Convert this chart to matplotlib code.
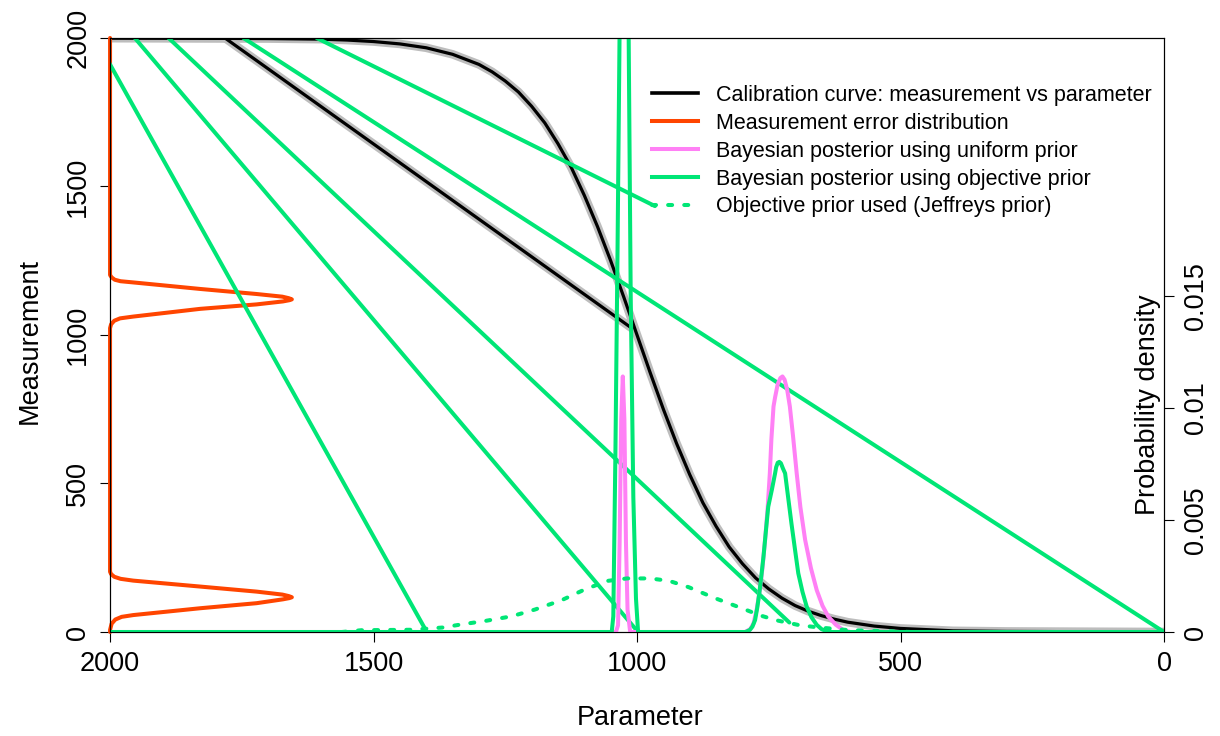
import matplotlib
matplotlib.use('Agg')
import matplotlib.pyplot as plt
from matplotlib.lines import Line2D

plt.rcParams['font.family'] = ['Liberation Sans', 'DejaVu Sans']

# calibration curves (parameter -> measurement)
sigmoid_x = [2000, 1700, 1600, 1550, 1500, 1450, 1400, 1350, 1300, 1275,
             1250, 1225, 1200, 1175, 1150, 1125, 1100, 1075, 1050, 1025,
             1000, 975, 950, 925, 900, 875, 850, 825, 800, 775, 750, 725,
             700, 675, 650, 625, 600, 550, 500, 400, 300, 0]
sigmoid_y = [2000, 1998, 1996, 1993, 1988, 1980, 1967, 1945, 1911, 1886,
             1855, 1818, 1770, 1714, 1644, 1565, 1470, 1365, 1250, 1127,
             1000, 873, 750, 635, 530, 435, 356, 286, 230, 182, 145, 114,
             89, 70, 55, 43, 33, 20, 12, 4, 2, 0]
linear_x = [2000, 1782, 1010]
linear_y = [2000, 2000, 1023]

# measurement error distribution, drawn sideways from the left edge
error_x = [2000, 2000, 1997, 1990, 1978, 1956, 1829, 1722, 1672, 1660, 1655,
           1661, 1673, 1722, 1829, 1956, 1980, 1992, 1998, 2000,
           2000, 1998, 1992, 1981, 1956, 1829, 1722, 1672, 1660, 1655,
           1661, 1673, 1722, 1829, 1956, 1980, 1991, 1997, 2000, 2000]
error_y = [0, 7, 28, 42, 51, 57, 80, 97, 110, 114, 117,
           121, 126, 136, 153, 173, 179, 186, 195, 203,
           1023, 1036, 1048, 1056, 1062, 1088, 1103, 1113, 1117, 1120,
           1124, 1129, 1138, 1155, 1177, 1181, 1186, 1194, 1202, 2000]

# posterior densities (right axis)
uniform_x = [2000, 1040, 1036, 1033, 1030, 1027, 1024, 1021, 1018, 1013,
             795, 785, 779, 773, 767, 762, 757, 752, 748, 745, 741, 738,
             733, 728, 724, 720, 715, 710, 704, 697, 690, 681, 670, 659,
             648, 637, 623, 609, 595, 0]
uniform_d = [0, 0, 0.0003, 0.004, 0.0095, 0.0114, 0.0095, 0.004, 0.001, 0,
             0, 0.00013, 0.00038, 0.00099, 0.00187, 0.00285, 0.00411,
             0.00557, 0.00708, 0.00861, 0.01006, 0.01047, 0.01106, 0.01133,
             0.0114, 0.01126, 0.0108, 0.01006, 0.00875, 0.00708, 0.00557,
             0.00411, 0.00285, 0.00187, 0.00117, 0.00069, 0.00033, 0.00009,
             0, 0]
objective_x = [2000, 1048, 1045, 1041, 1037, 1033, 1029, 1024, 1019, 1016,
               1012, 1007, 1002, 998, 794, 786, 781, 776, 772, 768, 764, 760,
               756, 751, 744, 738, 736, 733, 730, 727, 723, 719, 713, 707,
               700, 694, 686, 678, 669, 659, 650, 640, 630, 0]
objective_d = [0, 0, 0.0007, 0.008, 0.017, 0.027, 0.04, 0.045, 0.04, 0.027,
               0.015, 0.006, 0.0015, 0, 0, 0.00009, 0.00024, 0.00053,
               0.00106, 0.00172, 0.00252, 0.00337, 0.00437, 0.00559,
               0.00636, 0.00708, 0.00735, 0.00755, 0.00759, 0.00753,
               0.00729, 0.00708, 0.00596, 0.00485, 0.00364, 0.00262,
               0.00179, 0.00113, 0.00066, 0.00032, 0.00013, 0.00003, 0, 0]
prior_x = [1560, 1523, 1428, 1369, 1333, 1289, 1238, 1194, 1143, 1099, 1056,
           1019, 975, 939, 902, 851, 800, 765, 735, 691, 654, 602, 539, 480]
prior_d = [0, 0.00008, 0.0001, 0.0002, 0.00034, 0.00049, 0.0007, 0.001,
           0.00142, 0.0019, 0.00228, 0.00239, 0.00239, 0.00228, 0.002,
           0.0015, 0.00105, 0.00073, 0.00052, 0.0003, 0.0002, 0.00009,
           0.00004, 0]

# stray straight strokes of the objective posterior (left-axis units)
stroke_x0 = [2028, 1953, 1889, 1747, 1608]
stroke_y0 = [2000, 2000, 2000, 2000, 2000]
stroke_x1 = [1402, 998, 711, 0, 966]
stroke_y1 = [10, 0, 32, 0, 1434]

legend_labels = [
    'Calibration curve: measurement vs parameter',
    'Measurement error distribution',
    'Bayesian posterior using uniform prior',
    'Bayesian posterior using objective prior',
    'Objective prior used (Jeffreys prior)',
]

BLACK = '#000000'
GREY = '#bdbdbd'
RED = '#ff4500'
PINK = '#ff80f5'
GREEN = '#00e676'
FS = 19.5

fig = plt.figure(figsize=(12.2, 7.36), dpi=100)
ax = fig.add_axes([0.0902, 0.1413, 0.8639, 0.8071])
ax.set_xlim(2000, 0)
ax.set_ylim(0, 2000)

line_kw = dict(solid_capstyle='round', solid_joinstyle='round')
for xs, ys in [(sigmoid_x, sigmoid_y), (linear_x, linear_y)]:
    ax.plot(xs, ys, color=GREY, lw=6.2, **line_kw)
for xs, ys in [(sigmoid_x, sigmoid_y), (linear_x, linear_y)]:
    ax.plot(xs, ys, color=BLACK, lw=2.3, **line_kw)
ax.plot(error_x, error_y, color=RED, lw=2.9, clip_on=False, **line_kw)
for x0, y0, x1, y1 in zip(stroke_x0, stroke_y0, stroke_x1, stroke_y1):
    ax.plot([x0, x1], [y0, y1], color=GREEN, lw=2.9, **line_kw)

ax2 = ax.twinx()
ax2.set_ylim(0, 0.0265)
ax2.plot(uniform_x, uniform_d, color=PINK, lw=2.9, **line_kw)
ax2.plot(objective_x, objective_d, color=GREEN, lw=2.9, **line_kw)
ax2.plot(prior_x, prior_d, color=GREEN, lw=2.9, linestyle=(0, (1, 3)),
         dash_capstyle='round')

ax.set_xticks([2000, 1500, 1000, 500, 0])
ax.set_yticks([0, 500, 1000, 1500, 2000])
ax2.set_yticks([0, 0.005, 0.01, 0.015])
ax2.set_yticklabels(['0', '0.005', '0.01', '0.015'])
for a in (ax, ax2):
    a.tick_params(direction='out', length=7.5, width=0.8, labelsize=FS,
                  pad=6)
    for spine in a.spines.values():
        spine.set_linewidth(0.8)
for lab in ax.get_yticklabels() + ax2.get_yticklabels():
    lab.set_rotation(90)
    lab.set_va('center')

ax.text(0.503, -0.145, 'Parameter', transform=ax.transAxes, fontsize=FS,
        ha='center', va='center')
ax.text(-0.076, 0.49, 'Measurement', transform=ax.transAxes, fontsize=FS,
        ha='center', va='center', rotation=90)
ax.text(0.985, 0.382, 'Probability density', transform=ax.transAxes,
        fontsize=FS, ha='center', va='center', rotation=90)

handles = [
    Line2D([], [], color=BLACK, lw=2.6),
    Line2D([], [], color=RED, lw=2.9),
    Line2D([], [], color=PINK, lw=2.9),
    Line2D([], [], color=GREEN, lw=2.9),
    Line2D([], [], color=GREEN, lw=2.9, linestyle=(0, (1, 3)),
           dash_capstyle='round'),
]
ax2.legend(handles, legend_labels, loc='upper left',
           bbox_to_anchor=(0.514, 0.921), frameon=False, fontsize=15.5,
           handlelength=2.15, handletextpad=0.85, labelspacing=0.32,
           borderpad=0, borderaxespad=0)

fig.savefig('out.png', dpi=100)
